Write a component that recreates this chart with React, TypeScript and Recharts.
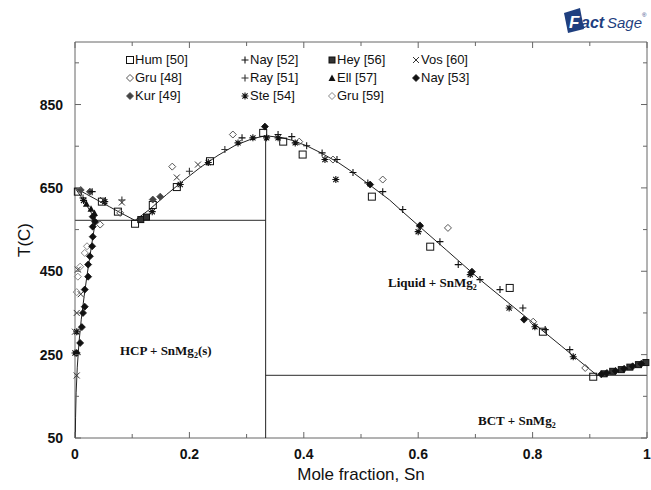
import React from 'react';
import { ComposedChart, Scatter, XAxis, YAxis } from 'recharts';

type Pt = { x: number; T: number };

// ---- calculated phase boundaries (Mg–Sn) ----
const liquidusMg: Pt[] = [
  { x: 0, T: 650 }, { x: 0.02, T: 635 }, { x: 0.04, T: 620 }, { x: 0.06, T: 605 },
  { x: 0.08, T: 590 }, { x: 0.105, T: 572 },
];
const liquidusMid: Pt[] = [
  { x: 0.105, T: 572 }, { x: 0.13, T: 598 }, { x: 0.16, T: 634 }, { x: 0.19, T: 668 },
  { x: 0.22, T: 700 }, { x: 0.25, T: 728 }, { x: 0.28, T: 752 }, { x: 0.31, T: 768 },
  { x: 0.3333, T: 775 },
];
const liquidusSn: Pt[] = [
  { x: 0.3333, T: 775 }, { x: 0.36, T: 771 }, { x: 0.38, T: 764 }, { x: 0.405, T: 751 },
  { x: 0.43, T: 734 }, { x: 0.46, T: 711 }, { x: 0.486, T: 687 }, { x: 0.52, T: 652 },
  { x: 0.55, T: 621 }, { x: 0.571, T: 595 }, { x: 0.6, T: 560 }, { x: 0.65, T: 500 },
  { x: 0.708, T: 430 }, { x: 0.75, T: 383 }, { x: 0.8, T: 327 }, { x: 0.85, T: 271 },
  { x: 0.88, T: 237 }, { x: 0.913, T: 200 }, { x: 0.94, T: 210 }, { x: 0.97, T: 221 },
  { x: 1, T: 232 },
];
const solidusMg: Pt[] = [
  { x: 0, T: 650 }, { x: 0.01, T: 630 }, { x: 0.02, T: 609 }, { x: 0.03, T: 587 }, { x: 0.036, T: 572 },
];
const solvusMg: Pt[] = [
  { x: 0.036, T: 572 }, { x: 0.031, T: 530 }, { x: 0.026, T: 485 }, { x: 0.021, T: 440 },
  { x: 0.016, T: 390 }, { x: 0.011, T: 335 }, { x: 0.007, T: 280 }, { x: 0.004, T: 220 },
  { x: 0.002, T: 160 }, { x: 0.001, T: 100 }, { x: 0.0005, T: 50 },
];
const eutecticMg: Pt[] = [{ x: 0, T: 572 }, { x: 0.3333, T: 572 }];
const eutecticSn: Pt[] = [{ x: 0.3333, T: 200 }, { x: 1, T: 200 }];
const compoundLine: Pt[] = [{ x: 0.3333, T: 50 }, { x: 0.3333, T: 775 }];

// ---- experimental points ----
const hum50: Pt[] = [
  { x: 0.005, T: 641 }, { x: 0.047, T: 617 }, { x: 0.075, T: 593 }, { x: 0.105, T: 564 },
  { x: 0.136, T: 609 }, { x: 0.178, T: 652 }, { x: 0.236, T: 714 }, { x: 0.329, T: 782 },
  { x: 0.364, T: 761 }, { x: 0.398, T: 730 }, { x: 0.519, T: 629 }, { x: 0.621, T: 509 },
  { x: 0.76, T: 410 }, { x: 0.818, T: 305 }, { x: 0.906, T: 197 },
];
const gru48: Pt[] = [
  { x: 0.044, T: 562 }, { x: 0.079, T: 590 }, { x: 0.17, T: 701 }, { x: 0.276, T: 778 },
  { x: 0.392, T: 761 }, { x: 0.451, T: 718 }, { x: 0.538, T: 670 }, { x: 0.652, T: 554 },
  { x: 0.801, T: 329 }, { x: 0.892, T: 218 },
];
const kur49: Pt[] = [
  { x: 0.01, T: 645 }, { x: 0.026, T: 641 }, { x: 0.136, T: 622 }, { x: 0.149, T: 629 },
];
const nay52: Pt[] = [
  { x: 0.03, T: 641 }, { x: 0.292, T: 770 }, { x: 0.355, T: 778 }, { x: 0.379, T: 773 },
  { x: 0.405, T: 751 }, { x: 0.432, T: 734 }, { x: 0.458, T: 718 }, { x: 0.486, T: 687 },
  { x: 0.512, T: 662 }, { x: 0.538, T: 641 }, { x: 0.573, T: 598 }, { x: 0.603, T: 557 },
  { x: 0.638, T: 521 }, { x: 0.67, T: 466 }, { x: 0.708, T: 430 }, { x: 0.743, T: 406 },
  { x: 0.783, T: 362 }, { x: 0.822, T: 310 }, { x: 0.865, T: 262 },
];
const ray51: Pt[] = [
  { x: 0.014, T: 626 }, { x: 0.082, T: 621 }, { x: 0.12, T: 580 }, { x: 0.2, T: 690 },
  { x: 0.262, T: 742 },
];
const ste54: Pt[] = [
  { x: 0, T: 254 }, { x: 0.003, T: 305 }, { x: 0.015, T: 620 }, { x: 0.052, T: 617 },
  { x: 0.135, T: 593 }, { x: 0.184, T: 658 }, { x: 0.233, T: 711 }, { x: 0.285, T: 758 },
  { x: 0.311, T: 770 }, { x: 0.335, T: 770 }, { x: 0.355, T: 770 }, { x: 0.385, T: 758 },
  { x: 0.437, T: 718 }, { x: 0.456, T: 670 }, { x: 0.6, T: 545 }, { x: 0.691, T: 442 },
  { x: 0.759, T: 362 }, { x: 0.804, T: 317 }, { x: 0.871, T: 245 },
];
const hey56: Pt[] = [
  { x: 0.115, T: 574 }, { x: 0.125, T: 580 }, { x: 0.925, T: 204 }, { x: 0.94, T: 210 },
  { x: 0.955, T: 214 }, { x: 0.97, T: 220 }, { x: 0.985, T: 226 }, { x: 0.998, T: 231 },
];
const ell57: Pt[] = [
  { x: 0.02, T: 612 }, { x: 0.028, T: 600 }, { x: 0.034, T: 590 },
];
const gru59: Pt[] = [
  { x: 0.005, T: 437 }, { x: 0.009, T: 461 }, { x: 0.017, T: 494 }, { x: 0.021, T: 510 },
  { x: 0.003, T: 400 },
];
const vos60: Pt[] = [
  { x: 0.003, T: 200 }, { x: 0, T: 305 }, { x: 0.003, T: 350 }, { x: 0.01, T: 395 },
  { x: 0.005, T: 454 }, { x: 0.049, T: 621 }, { x: 0.082, T: 615 }, { x: 0.178, T: 675 },
  { x: 0.215, T: 706 },
];
const nay53: Pt[] = [
  { x: 0.003, T: 254 }, { x: 0.009, T: 278 }, { x: 0.012, T: 316 }, { x: 0.014, T: 350 },
  { x: 0.017, T: 365 }, { x: 0.017, T: 406 }, { x: 0.023, T: 437 }, { x: 0.023, T: 466 },
  { x: 0.026, T: 486 }, { x: 0.03, T: 510 }, { x: 0.031, T: 533 }, { x: 0.031, T: 557 },
  { x: 0.035, T: 569 }, { x: 0.031, T: 581 }, { x: 0.332, T: 797 }, { x: 0.516, T: 658 },
  { x: 0.603, T: 560 }, { x: 0.694, T: 449 }, { x: 0.785, T: 334 }, { x: 0.92, T: 203 },
  { x: 0.93, T: 206 }, { x: 0.945, T: 211 }, { x: 0.96, T: 216 }, { x: 0.975, T: 222 },
  { x: 0.99, T: 228 },
];

const xTicks = [0, 0.1, 0.2, 0.3, 0.4, 0.5, 0.6, 0.7, 0.8, 0.9, 1];
const yTicks = [50, 150, 250, 350, 450, 550, 650, 750, 850, 950];
const xLabels = ['0', '0.2', '0.4', '0.6', '0.8', '1'];
const yLabels = [50, 250, 450, 650, 850];

type Kind = 'square' | 'squareFill' | 'plus' | 'cross' | 'diamond' | 'diamondFill' | 'tri' | 'star' | 'dot';

const Glyph = ({ kind, cx, cy, color = '#111' }: { kind: Kind; cx: number; cy: number; color?: string }) => {
  const r = 3.5;
  switch (kind) {
    case 'square':
      return <rect x={cx - r} y={cy - r} width={2 * r} height={2 * r} fill="none" stroke={color} strokeWidth={1} />;
    case 'squareFill':
      return <rect x={cx - 3} y={cy - 3} width={6} height={6} fill="#333" stroke={color} strokeWidth={1} />;
    case 'plus':
      return <path d={`M${cx - r},${cy}H${cx + r}M${cx},${cy - r}V${cy + r}`} stroke={color} strokeWidth={1.1} />;
    case 'cross':
      return <path d={`M${cx - 3},${cy - 3}L${cx + 3},${cy + 3}M${cx - 3},${cy + 3}L${cx + 3},${cy - 3}`} stroke={color} strokeWidth={1} />;
    case 'diamond':
      return <path d={`M${cx},${cy - r}L${cx + r},${cy}L${cx},${cy + r}L${cx - r},${cy}Z`} fill="none" stroke={color} strokeWidth={1} />;
    case 'diamondFill':
      return <path d={`M${cx},${cy - r}L${cx + r},${cy}L${cx},${cy + r}L${cx - r},${cy}Z`} fill={color} stroke={color} strokeWidth={0.8} />;
    case 'tri':
      return <path d={`M${cx},${cy - r}L${cx + r},${cy + 3}L${cx - r},${cy + 3}Z`} fill={color} />;
    case 'star':
      return (
        <path
          d={`M${cx - r},${cy}H${cx + r}M${cx},${cy - r}V${cy + r}M${cx - 2.6},${cy - 2.6}L${cx + 2.6},${cy + 2.6}M${cx - 2.6},${cy + 2.6}L${cx + 2.6},${cy - 2.6}`}
          stroke={color}
          strokeWidth={1.1}
        />
      );
    case 'dot':
    default:
      return <circle cx={cx} cy={cy} r={3} fill={color} />;
  }
};

const shapeOf = (kind: Kind, color?: string) => (p: any) =>
  p.cx == null ? <g /> : <Glyph kind={kind} cx={p.cx} cy={p.cy} color={color} />;

const noShape = () => <g />;

const series: { name: string; data: Pt[]; kind: Kind; color?: string }[] = [
  { name: 'Hum [50]', data: hum50, kind: 'square' },
  { name: 'Gru [48]', data: gru48, kind: 'diamond', color: '#555' },
  { name: 'Kur [49]', data: kur49, kind: 'diamondFill', color: '#444' },
  { name: 'Nay [52]', data: nay52, kind: 'plus' },
  { name: 'Ray [51]', data: ray51, kind: 'plus', color: '#333' },
  { name: 'Ste [54]', data: ste54, kind: 'star' },
  { name: 'Hey [56]', data: hey56, kind: 'squareFill' },
  { name: 'Ell [57]', data: ell57, kind: 'tri' },
  { name: 'Gru [59]', data: gru59, kind: 'diamond', color: '#888' },
  { name: 'Vos [60]', data: vos60, kind: 'cross', color: '#333' },
  { name: 'Nay [53]', data: nay53, kind: 'diamondFill', color: '#111' },
];

// legend order: columns of three rows
const legendCols = [
  ['Hum [50]', 'Gru [48]', 'Kur [49]'],
  ['Nay [52]', 'Ray [51]', 'Ste [54]'],
  ['Hey [56]', 'Ell [57]', 'Gru [59]'],
  ['Vos [60]', 'Nay [53]'],
];
const legendX = [130, 245, 332, 416];
const legendY = [64, 82, 100];

const frame = '#666';
const tickFont = { fontFamily: 'Liberation Sans, Arial, sans-serif', fontSize: 14, fontWeight: 700, fill: '#111' };

const BottomTick = (p: any) => {
  const v = p.payload.value;
  const i = Math.round(v * 10);
  const major = i % 2 === 0;
  return (
    <g>
      <line x1={p.x} x2={p.x} y1={p.y} y2={p.y - (major ? 6 : 4)} stroke={frame} />
      {major && (
        <text x={p.x} y={p.y + 21} textAnchor="middle" {...tickFont}>
          {xLabels[i / 2]}
        </text>
      )}
    </g>
  );
};

const TopTick = (p: any) => {
  const major = Math.round(p.payload.value * 10) % 2 === 0;
  return <line x1={p.x} x2={p.x} y1={p.y} y2={p.y + (major ? 6 : 4)} stroke={frame} />;
};

const LeftTick = (p: any) => {
  const v = p.payload.value;
  const major = yLabels.includes(v);
  return (
    <g>
      <line x1={p.x} x2={p.x + (major ? 6 : 4)} y1={p.y} y2={p.y} stroke={frame} />
      {major && (
        <text x={p.x - 12} y={p.y + 5} textAnchor="end" {...tickFont}>
          {v}
        </text>
      )}
    </g>
  );
};

const RightTick = (p: any) => {
  const major = yLabels.includes(p.payload.value);
  return <line x1={p.x} x2={p.x - (major ? 6 : 4)} y1={p.y} y2={p.y} stroke={frame} />;
};

const Sub2 = () => (
  <tspan dy={3} fontSize={8}>
    2
  </tspan>
);

const phaseFont = { fontFamily: 'Liberation Serif, Times New Roman, serif', fontSize: 13, fontWeight: 700, fill: '#111' };

export default function App() {
  return (
    <div style={{ position: 'absolute', left: 0, top: 0, width: 651, height: 490, background: '#fff' }}>
      <ComposedChart width={651} height={490} margin={{ top: 41, right: 3, bottom: 4, left: 0 }}>
        <XAxis
          xAxisId="b"
          type="number"
          dataKey="x"
          domain={[0, 1]}
          ticks={xTicks}
          interval={0}
          height={48}
          tickSize={0}
          tickMargin={0}
          tickLine={false}
          tick={BottomTick}
          stroke={frame}
          label={{
            value: 'Mole fraction, Sn',
            position: 'insideBottom',
            offset: 6,
            style: { fontFamily: 'Liberation Sans, Arial, sans-serif', fontSize: 17, fill: '#111' },
          }}
        />
        <XAxis
          xAxisId="t"
          orientation="top"
          type="number"
          dataKey="x"
          domain={[0, 1]}
          ticks={xTicks}
          interval={0}
          height={1}
          tickSize={0}
          tickMargin={0}
          tickLine={false}
          tick={TopTick}
          stroke={frame}
        />
        <YAxis
          yAxisId="l"
          type="number"
          dataKey="T"
          domain={[50, 1000]}
          ticks={yTicks}
          interval={0}
          width={75}
          tickSize={0}
          tickMargin={0}
          tickLine={false}
          tick={LeftTick}
          stroke={frame}
          label={(props: any) => {
            const vb = props.viewBox;
            const cy = vb.y + vb.height / 2;
            return (
              <text
                x={30}
                y={cy}
                transform={`rotate(-90 30 ${cy})`}
                textAnchor="middle"
                fontFamily="Liberation Sans, Arial, sans-serif"
                fontSize={17}
                fill="#111"
              >
                T(C)
              </text>
            );
          }}
        />
        <YAxis
          yAxisId="r"
          orientation="right"
          type="number"
          dataKey="T"
          domain={[50, 1000]}
          ticks={yTicks}
          interval={0}
          width={1}
          tickSize={0}
          tickMargin={0}
          tickLine={false}
          tick={RightTick}
          stroke={frame}
        />

        {/* phase boundaries */}
        {[eutecticMg, eutecticSn].map((d, i) => (
          <Scatter key={`eu${i}`} xAxisId={i ? 't' : 'b'} yAxisId={i ? 'r' : 'l'} data={d} line={{ stroke: '#555', strokeWidth: 1.2 }} shape={noShape} isAnimationActive={false} />
        ))}
        {[compoundLine, liquidusMg, liquidusMid, liquidusSn, solidusMg, solvusMg].map((d, i) => (
          <Scatter key={`pb${i}`} xAxisId="b" yAxisId="l" data={d} line={{ stroke: '#222', strokeWidth: 1 }} shape={noShape} isAnimationActive={false} />
        ))}

        {/* measured points */}
        {series.map((s) => (
          <Scatter key={s.name} xAxisId="b" yAxisId="l" name={s.name} data={s.data} shape={shapeOf(s.kind, s.color)} isAnimationActive={false} />
        ))}
      </ComposedChart>

      <svg width={651} height={490} style={{ position: 'absolute', left: 0, top: 0, pointerEvents: 'none' }}>
        {legendCols.map((col, ci) =>
          col.map((name, ri) => {
            const s = series.find((q) => q.name === name)!;
            return (
              <g key={`${ci}-${ri}`}>
                <Glyph kind={s.kind} cx={legendX[ci]} cy={legendY[ri] - 4} color={s.color} />
                <text x={legendX[ci] + 5} y={legendY[ri]} fontFamily="Liberation Sans, Arial, sans-serif" fontSize={13} fill="#111">
                  {name}
                </text>
              </g>
            );
          }),
        )}

        <text x={120} y={355} {...phaseFont}>
          HCP + SnMg<Sub2 />
          <tspan dy={-3}>(s)</tspan>
        </text>
        <text x={388} y={287} {...phaseFont}>
          Liquid + SnMg<Sub2 />
        </text>
        <text x={478} y={425} {...phaseFont}>
          BCT + SnMg<Sub2 />
        </text>

        {/* FactSage mark */}
        <g transform="translate(563,6)">
          <path d="M1,7 L17,2 L21,23 L5,27 Z" fill="#1f3f7f" />
          <text x={6} y={22} fontFamily="Liberation Sans, Arial, sans-serif" fontSize={17} fontWeight={700} fontStyle="italic" fill="#fff">
            F
          </text>
          <text x={18} y={22} fontFamily="Liberation Sans, Arial, sans-serif" fontSize={16} fontWeight={700} fontStyle="italic" fill="#1f3f7f">
            act
          </text>
          <text x={44} y={22} fontFamily="Liberation Sans, Arial, sans-serif" fontSize={15} fontStyle="italic" fill="#1f3f7f">
            Sage
          </text>
          <text x={79} y={11} fontFamily="Liberation Sans, Arial, sans-serif" fontSize={6} fill="#1f3f7f">
            ®
          </text>
        </g>
      </svg>
    </div>
  );
}
